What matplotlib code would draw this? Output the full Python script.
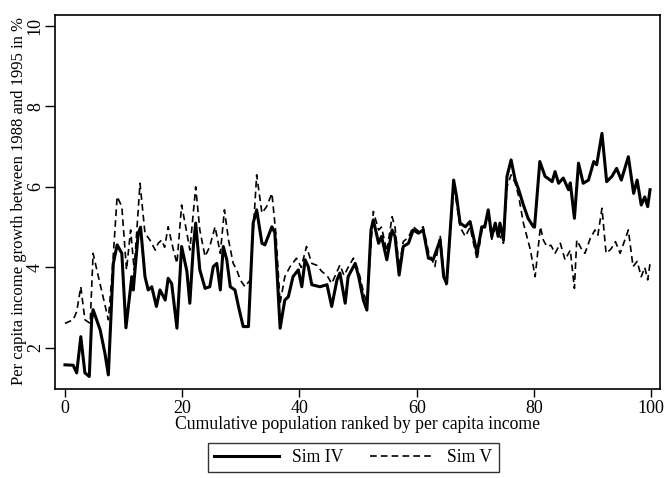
import matplotlib
matplotlib.use('Agg')
import matplotlib.pyplot as plt

plt.rcParams['font.family'] = ['Liberation Serif', 'DejaVu Serif']

# Sim IV (solid)
x_iv = [0, 1.4, 2.0, 2.7, 3.4, 4.15, 4.55, 4.8, 6.0, 6.8, 7.4, 8.25, 8.9, 9.7, 10.4, 11.4, 11.65,
        12.5, 12.9, 13.65, 14.2, 14.8, 15.6, 16.2, 17.1, 17.6, 18.2, 19.1, 19.9, 20.8, 21.3, 21.9,
        22.3, 23.0, 23.9, 24.7, 25.3, 25.9, 26.5, 27.0, 27.6, 28.2, 29.0, 29.6, 30.4, 31.3, 32.1,
        32.7, 33.6, 34.1, 35.3, 35.8, 36.7, 37.5, 38.1, 38.9, 39.8, 40.4, 40.96, 41.5, 42.1, 43.5,
        44.7, 45.5, 46.4, 46.9, 47.8, 48.3, 49.5, 50.1, 50.9, 51.5, 52.2, 52.6, 53.5, 54.0, 54.9,
        55.8, 56.3, 57.0, 57.7, 58.6, 59.4, 60.3, 61.1, 62.0, 62.8, 64.0, 64.6, 65.1, 66.3, 66.8,
        67.4, 68.3, 69.1, 70.3, 71.1, 71.6, 72.2, 72.8, 73.4, 73.9, 74.2, 74.8, 75.4, 76.1, 76.8,
        77.4, 78.2, 79.0, 79.9, 80.1, 81.0, 81.9, 82.5, 83.1, 83.6, 84.2, 85.0, 85.9, 86.2, 86.9,
        87.6, 88.4, 89.3, 90.2, 90.7, 91.6, 92.4, 93.3, 94.1, 94.9, 96.1, 97.0, 97.6, 98.3, 98.9,
        99.4, 99.8]
y_iv = [1.58, 1.57, 1.38, 2.28, 1.38, 1.29, 2.7, 2.95, 2.45, 1.88, 1.33, 4.1, 4.56, 4.35, 2.5, 3.77, 3.44,
        4.85, 5.0, 3.77, 3.44, 3.52, 3.03, 3.44, 3.19, 3.73, 3.6, 2.49, 4.52, 3.9, 3.11, 4.52,
        5.1, 3.94, 3.48, 3.52, 4.02, 4.1, 3.44, 4.52, 4.19, 3.52, 3.44, 3.03, 2.53, 2.53, 5.1,
        5.43, 4.6, 4.56, 5.01, 4.86, 2.49, 3.19, 3.27, 3.77, 3.94, 3.52, 4.19, 4.02, 3.57, 3.52,
        3.57, 3.03, 3.69, 3.86, 3.11, 3.77, 4.1, 3.77, 3.19, 2.94, 4.93, 5.18, 4.6, 4.77, 4.19,
        4.93, 4.77, 3.81, 4.52, 4.6, 4.93, 4.85, 4.93, 4.23, 4.19, 4.68, 3.77, 3.6, 6.17, 5.76,
        5.1, 5.01, 5.14, 4.35, 5.01, 5.0, 5.43, 4.77, 5.1, 4.77, 5.1, 4.68, 6.26, 6.67, 6.17,
        5.93, 5.55, 5.22, 5.01, 5.0, 6.63, 6.26, 6.2, 6.13, 6.38, 6.09, 6.22, 5.93, 6.1, 5.22,
        6.59, 6.09, 6.17, 6.63, 6.55, 7.33, 6.13, 6.26, 6.46, 6.17, 6.75, 5.84, 6.17, 5.55, 5.75,
        5.51, 5.93]

# Sim V (dashed)
x_v = [0, 1.4, 2.0, 2.7, 3.4, 4.3, 4.8, 5.7, 6.5, 7.4, 8.0, 8.9, 9.7, 10.5, 11.2, 11.8, 12.8, 13.65,
       14.5, 15.4, 15.9, 16.5, 17.0, 17.6, 18.5, 19.1, 19.9, 20.8, 21.3, 22.3, 23.0, 23.9, 24.7,
       25.6, 26.5, 27.2, 27.9, 28.7, 29.3, 29.9, 30.7, 31.6, 32.7, 33.6, 34.4, 35.3, 36.0, 36.7,
       37.5, 38.4, 39.5, 40.3, 41.2, 42.1, 43.0, 43.8, 44.7, 45.5, 46.9, 47.6, 48.3, 49.2, 50.1,
       50.9, 51.5, 52.6, 53.5, 54.0, 54.9, 55.8, 56.3, 57.0, 57.7, 58.6, 59.4, 60.3, 61.1, 62.0,
       63.1, 64.0, 64.6, 65.1, 66.3, 66.8, 67.4, 68.3, 69.1, 70.3, 71.1, 72.2, 72.8, 73.4, 74.8,
       75.4, 76.1, 76.8, 77.4, 78.2, 79.4, 80.2, 81.1, 81.6, 82.2, 82.9, 83.6, 84.5, 85.3, 86.2,
       86.9, 87.3, 88.2, 88.7, 89.6, 90.4, 90.9, 91.6, 92.3, 93.1, 93.9, 94.7, 96.1, 96.9, 97.6,
       98.3, 98.9, 99.4, 99.8]
y_v = [2.61, 2.7, 2.9, 3.52, 2.7, 2.61, 4.35, 3.77, 3.27, 2.7, 3.77, 5.76, 5.51, 3.94, 4.93, 3.94, 6.09, 4.85,
       4.68, 4.43, 4.6, 4.68, 4.5, 5.01, 4.43, 4.1, 5.55, 4.85, 4.43, 6.0, 4.93, 4.27, 4.52,
       5.01, 4.35, 5.43, 4.68, 4.1, 3.94, 3.69, 3.52, 3.69, 6.3, 5.35, 5.51, 5.84, 4.8, 3.11,
       3.77, 4.02, 4.23, 4.0, 4.52, 4.1, 4.05, 3.9, 3.8, 3.6, 4.06, 3.8, 4.0, 4.23, 3.9,
       3.4, 3.1, 5.39, 4.93, 5.0, 4.4, 5.26, 5.0, 4.0, 4.64, 4.75, 5.01, 4.9, 5.01, 4.4,
       4.02, 4.8, 3.9, 3.52, 6.0, 5.6, 5.0, 4.77, 5.0, 4.19, 4.9, 5.3, 4.7, 5.0, 4.6,
       6.0, 6.3, 6.1, 5.76, 5.1, 4.43, 3.77, 5.01, 4.68, 4.52, 4.55, 4.35, 4.6, 4.19, 4.43,
       3.48, 4.68, 4.43, 4.35, 4.72, 4.93, 4.8, 5.47, 4.35, 4.45, 4.64, 4.35, 4.93, 4.02, 4.15,
       3.77, 4.0, 3.69, 4.1]

x_ticks = [0, 20, 40, 60, 80, 100]
y_ticks = [2, 4, 6, 8, 10]

fig = plt.figure(figsize=(6.64, 4.78), dpi=100)
ax = fig.add_axes([55 / 664, 1 - 389 / 478, 605 / 664, 374 / 478])

ax.plot(x_iv, y_iv, color='black', lw=2.2, solid_joinstyle='round', label='Sim IV')
ax.plot(x_v, y_v, color='black', lw=1.2, linestyle=(0, (4, 2.5)), label='Sim V')

ax.set_xlim(-1.7, 101.5)
ax.set_ylim(0.98, 10.27)
ax.set_xticks(x_ticks)
ax.set_yticks(y_ticks)
ax.tick_params(direction='out', width=1, labelsize=13, colors='black')
ax.tick_params(axis='x', length=6, pad=2)
ax.tick_params(axis='y', length=7, pad=1)
for lab in ax.get_yticklabels():
    lab.set_rotation(90)
    lab.set_va('center')
for s in ax.spines.values():
    s.set_linewidth(1.2)

ax.set_xlabel('Cumulative population ranked by per capita income', fontsize=12.7, labelpad=-1)
ax.set_ylabel('Per capita income growth between 1988 and 1995 in %', fontsize=12)
ax.yaxis.set_label_coords(-0.047, 0.503)

leg = fig.legend(loc='upper center', bbox_to_anchor=(0.532, 1 - 443 / 478), ncol=2, fontsize=12.7,
                 frameon=True, fancybox=False, edgecolor='black', handlelength=3.7,
                 handletextpad=0.7, columnspacing=1.5, borderpad=0.35, borderaxespad=0)
leg.get_frame().set_linewidth(1.0)

fig.savefig('out.png', dpi=100)
